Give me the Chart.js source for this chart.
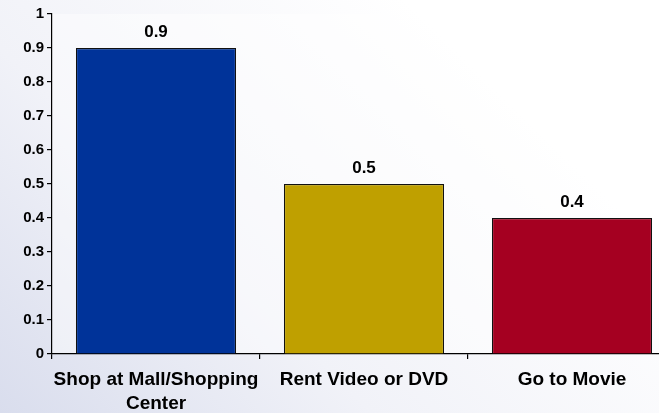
<!DOCTYPE html>
<html>
  <head>
    <script src="https://cdn.jsdelivr.net/npm/chart.js@4.4.0/dist/chart.umd.min.js"></script>
    <style>
      html, body { margin: 0; padding: 0; overflow: hidden; width: 659px; height: 413px; }
      #wrap { position: relative; width: 676px; height: 413px; }
    </style>
  </head>
  <body>
    <div id="wrap"><canvas id="activityChart"></canvas></div>
    <script>
      var categories = [["Shop at Mall/Shopping", "Center"], "Rent Video or DVD", "Go to Movie"];
      var values = [0.9, 0.5, 0.4];
      var barColors = ["#003399", "#bfa000", "#a50021"];
      var yTicks = [0, 0.1, 0.2, 0.3, 0.4, 0.5, 0.6, 0.7, 0.8, 0.9, 1];

      var FONT = "'Liberation Sans', Arial, sans-serif";

      // soft grey-blue backdrop, lighter toward the top right
      var backdrop = {
        id: "backdrop",
        beforeDraw: function (chart) {
          var c = chart.ctx;
          var g = c.createLinearGradient(0, chart.height, chart.width * 0.6, 0);
          g.addColorStop(0, "#d9dded");
          g.addColorStop(0.45, "#f1f2f8");
          g.addColorStop(1, "#ffffff");
          c.save();
          c.fillStyle = g;
          c.fillRect(0, 0, chart.width, chart.height);
          var a = chart.chartArea;
          c.fillStyle = "rgba(255,255,255,0.45)";
          c.fillRect(a.left, a.top, a.right - a.left, a.bottom - a.top);
          c.restore();
        },
      };

      // value printed above each bar
      var barValues = {
        id: "barValues",
        afterDatasetsDraw: function (chart) {
          var c = chart.ctx;
          var meta = chart.getDatasetMeta(0);
          c.save();
          c.font = "bold 17px " + FONT;
          c.fillStyle = "#000";
          c.textAlign = "center";
          c.textBaseline = "bottom";
          meta.data.forEach(function (bar, i) {
            c.fillText(String(values[i]), bar.x, bar.y - 7);
          });
          c.restore();
        },
      };

      new Chart(document.getElementById("activityChart"), {
        type: "bar",
        data: {
          labels: categories,
          datasets: [
            {
              data: values,
              backgroundColor: barColors,
              borderColor: "#111",
              borderWidth: 1.2,
              barPercentage: 0.77,
              categoryPercentage: 1,
            },
          ],
        },
        options: {
          responsive: true,
          maintainAspectRatio: false,
          animation: false,
          layout: { padding: { top: 14, right: 0, left: 0, bottom: 0 } },
          plugins: {
            legend: { display: false },
            tooltip: { enabled: false },
          },
          scales: {
            x: {
              border: { color: "#000", width: 1.2 },
              grid: { display: true, drawOnChartArea: false, drawTicks: true, tickLength: 5, color: "#000", lineWidth: 1.2 },
              ticks: {
                color: "#000",
                font: { family: FONT, size: 19, weight: "bold", lineHeight: 1.26 },
                padding: 9,
                maxRotation: 0,
                autoSkip: false,
              },
              afterFit: function (scale) { scale.height = 59; },
            },
            y: {
              min: 0,
              max: 1,
              border: { color: "#000", width: 1.2 },
              grid: { display: true, drawOnChartArea: false, drawTicks: true, tickLength: 5, color: "#000", lineWidth: 1.2 },
              afterBuildTicks: function (scale) {
                scale.ticks = yTicks.map(function (v) { return { value: v }; });
              },
              ticks: {
                color: "#000",
                font: { family: FONT, size: 15, weight: "bold" },
                padding: 3,
                callback: function (v) { return String(v); },
              },
              afterFit: function (scale) { scale.width = 52; },
            },
          },
        },
        plugins: [backdrop, barValues],
      });
    </script>
  </body>
</html>
